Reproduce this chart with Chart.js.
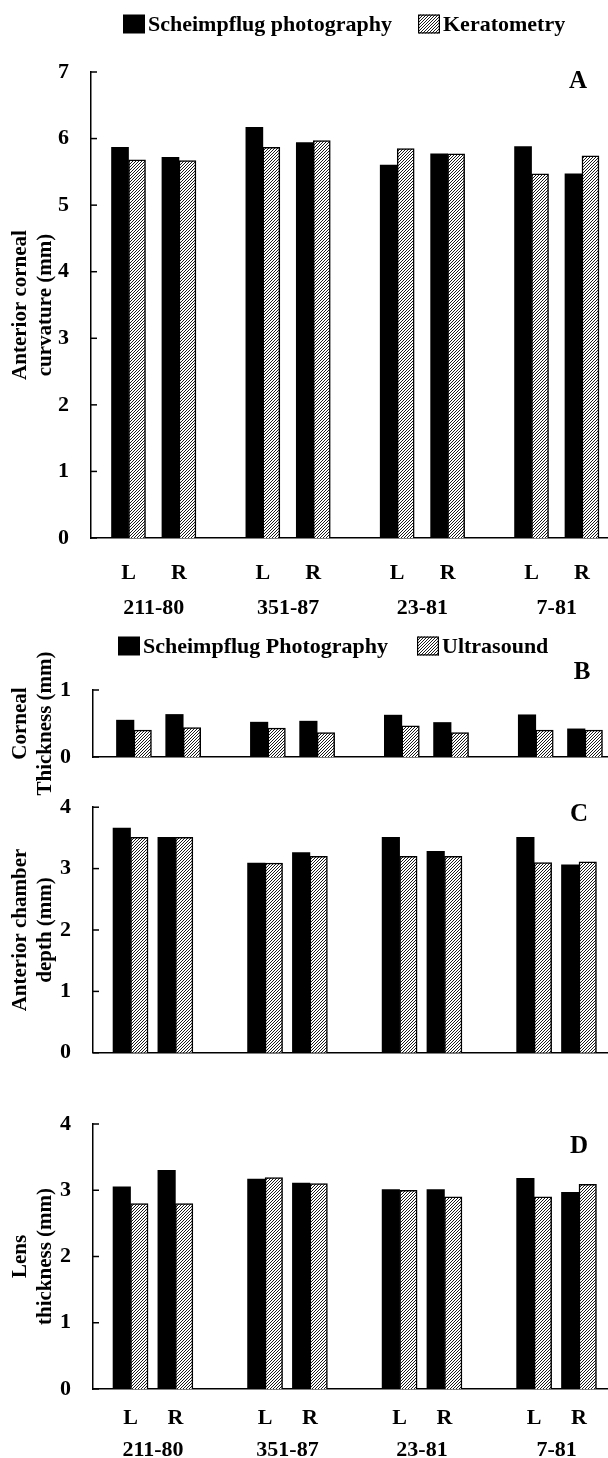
<!DOCTYPE html>
<html><head><meta charset="utf-8">
<script src="https://cdn.jsdelivr.net/npm/chart.js@4.4.1/dist/chart.umd.min.js"></script>
<style>
html,body{margin:0;padding:0;background:#fff;}
#wrap{position:relative;width:608px;height:1458px;overflow:hidden;background:#fff;}
.p{position:absolute;left:0;width:608px;}
canvas{display:block;}
</style></head><body>
<div id="wrap">
<div class="p" style="top:0;height:620px"><canvas id="cA" width="608" height="620"></canvas></div>
<div class="p" style="top:620px;height:200px"><canvas id="cB" width="608" height="200"></canvas></div>
<div class="p" style="top:780px;height:300px"><canvas id="cC" width="608" height="300"></canvas></div>
<div class="p" style="top:1080px;height:378px"><canvas id="cD" width="608" height="378"></canvas></div>
</div>
<script>
// ---------- data ----------
const groups = ['211-80', '351-87', '23-81', '7-81'];
const eyes = ['L', 'R'];
const seriesA = ['Scheimpflug photography', 'Keratometry'];
const seriesBCD = ['Scheimpflug Photography', 'Ultrasound'];

const curvScheimpflug = [5.87, 5.72, 6.17, 5.94, 5.60, 5.77, 5.88, 5.47];
const curvKeratometry = [5.68, 5.67, 5.87, 5.97, 5.85, 5.77, 5.47, 5.74];

const cornScheimpflug = [0.55, 0.635, 0.52, 0.535, 0.625, 0.515, 0.63, 0.42];
const cornUltrasound  = [0.40, 0.44, 0.43, 0.365, 0.465, 0.365, 0.40, 0.40];

const acdScheimpflug = [3.66, 3.51, 3.09, 3.26, 3.51, 3.28, 3.51, 3.06];
const acdUltrasound  = [3.51, 3.51, 3.09, 3.20, 3.20, 3.20, 3.10, 3.11];

const lensScheimpflug = [3.05, 3.30, 3.17, 3.11, 3.01, 3.01, 3.18, 2.97];
const lensUltrasound  = [2.80, 2.80, 3.19, 3.10, 3.00, 2.90, 2.90, 3.09];

const yTicksA = [0, 1, 2, 3, 4, 5, 6, 7];
const yTicksB = [0, 1];
const yTicksCD = [0, 1, 2, 3, 4];

const titleA = ['Anterior corneal', 'curvature (mm)'];
const titleB = ['Corneal', 'Thickness (mm)'];
const titleC = ['Anterior chamber', 'depth (mm)'];
const titleD = ['Lens', 'thickness (mm)'];

// ---------- styling ----------
const FONT = '"Liberation Serif", "Times New Roman", serif';
Chart.defaults.font.family = FONT;
Chart.defaults.color = '#000';
Chart.defaults.animation = false;

function hatchPattern() {
  const s = 3;
  const c = document.createElement('canvas'); c.width = s; c.height = s;
  const g = c.getContext('2d');
  g.fillStyle = '#fff'; g.fillRect(0, 0, s, s);
  g.strokeStyle = '#000'; g.lineWidth = 0.9;
  g.beginPath();
  g.moveTo(0, s); g.lineTo(s, 0);
  g.moveTo(-1, 1); g.lineTo(1, -1);
  g.moveTo(s - 1, s + 1); g.lineTo(s + 1, s - 1);
  g.stroke();
  return g.createPattern(c, 'repeat');
}
const HATCH = hatchPattern();

const panelDecor = {
  id: 'panelDecor',
  afterDraw(chart, args, opts) {
    const ctx = chart.ctx;
    const y = chart.scales.y, area = chart.chartArea;
    ctx.save();
    ctx.strokeStyle = '#000'; ctx.lineWidth = 1.5;
    y.ticks.forEach((t, i) => {
      const py = y.getPixelForTick(i);
      ctx.beginPath(); ctx.moveTo(area.left, py); ctx.lineTo(area.left + 6, py); ctx.stroke();
    });
    ctx.fillStyle = '#000';
    ctx.font = 'bold 25px ' + FONT;
    ctx.textAlign = 'center'; ctx.textBaseline = 'middle';
    ctx.fillText(opts.letter, opts.letterX, opts.letterY);
    if (opts.legend) {
      ctx.font = 'bold 22px ' + FONT;
      ctx.textAlign = 'left';
      chart.data.datasets.forEach((ds, i) => {
        const bx = opts.legend.xs[i], by = opts.legend.y;
        ctx.fillStyle = ds.backgroundColor;
        ctx.fillRect(bx, by - 9.5, 22, 19);
        if (ds.borderWidth) { ctx.lineWidth = 1.2; ctx.strokeStyle = '#000'; ctx.strokeRect(bx + 0.6, by - 8.9, 20.8, 17.8); }
        ctx.fillStyle = '#000';
        ctx.fillText(ds.label, bx + 25, by + 1);
      });
    }
    ctx.restore();
  }
};

function makePanel(id, p) {
  const pos = p.s1.map((_, i) => Math.floor(i / 2) * p.period + (i % 2));
  const grpPos = groups.map((_, g) => g * p.period + 0.5);
  const font = { family: FONT, size: 22, weight: 'bold' };
  const tfont = { family: FONT, size: 21, weight: 'bold', lineHeight: 1.2 };
  const scales = {
    x: {
      type: 'linear', position: 'bottom', min: p.xMin, max: p.xMax, offset: false,
      grid: { display: false },
      border: { display: true, color: '#000', width: 1.5 },
      afterBuildTicks: s => { s.ticks = pos.map(v => ({ value: v })); },
      ticks: { display: p.xLabels, padding: p.xPad, color: '#000', font, maxRotation: 0, autoSkip: false,
               callback: (v, i) => eyes[i % 2] },
      afterFit: s => { s.height = p.xH; }
    },
    y: {
      type: 'linear', position: 'left', min: 0, max: p.yMax,
      grid: { display: false },
      border: { display: true, color: '#000', width: 1.5 },
      afterBuildTicks: s => { s.ticks = p.yTicks.map(v => ({ value: v })); },
      ticks: { padding: 14, color: '#000', font, callback: v => String(v) },
      title: { display: true, text: p.yTitle, color: '#000', font: tfont, padding: { top: 8, bottom: 0 } },
      afterFit: s => { s.width = p.axisX; }
    }
  };
  if (p.xLabels) {
    scales.x2 = {
      type: 'linear', position: 'bottom', min: p.xMin, max: p.xMax, offset: false,
      grid: { display: false }, border: { display: false },
      afterBuildTicks: s => { s.ticks = grpPos.map(v => ({ value: v })); },
      ticks: { padding: p.x2Pad, color: '#000', font, maxRotation: 0, autoSkip: false,
               callback: (v, i) => groups[i] },
      afterFit: s => { s.height = p.x2H; }
    };
  }
  return new Chart(document.getElementById(id), {
    type: 'bar',
    data: {
      datasets: [
        { label: p.names[0], data: p.s1.map((v, i) => ({ x: pos[i], y: v })),
          backgroundColor: '#000', borderWidth: 0, barThickness: p.bar },
        { label: p.names[1], data: p.s2.map((v, i) => ({ x: pos[i], y: v })),
          backgroundColor: HATCH, borderColor: '#000', borderWidth: 1.5, barThickness: p.bar }
      ]
    },
    options: {
      responsive: false, devicePixelRatio: 1, animation: false,
      layout: { padding: { top: p.padTop, left: 0, right: 0, bottom: 0 } },
      plugins: {
        legend: { display: false }, tooltip: { enabled: false },
        panelDecor: { letter: p.letter, letterX: p.letterX, letterY: p.letterY, legend: p.legend }
      },
      scales
    },
    plugins: [panelDecor]
  });
}

makePanel('cA', {
  s1: curvScheimpflug, s2: curvKeratometry, names: seriesA, yTitle: titleA,
  yMax: 7, yTicks: yTicksA, period: 2.664, xMin: -0.744, xMax: 9.508, axisX: 91, bar: 17,
  padTop: 72, xLabels: true, xH: 46, xPad: 14, x2H: 36, x2Pad: 3,
  letter: 'A', letterX: 578, letterY: 82, legend: { y: 24, xs: [123, 418] }
});
makePanel('cB', {
  s1: cornScheimpflug, s2: cornUltrasound, names: seriesBCD, yTitle: titleB,
  yMax: 1, yTicks: yTicksB, period: 2.72, xMin: -0.832, xMax: 9.627, axisX: 93, bar: 17.5,
  padTop: 70, xLabels: false, xH: 63, xPad: 0,
  letter: 'B', letterX: 582, letterY: 53, legend: { y: 26, xs: [118, 417] }
});
makePanel('cC', {
  s1: acdScheimpflug, s2: acdUltrasound, names: seriesBCD, yTitle: titleC,
  yMax: 4, yTicks: yTicksCD, period: 3.0, xMin: -0.837, xMax: 10.647, axisX: 93, bar: 17.5,
  padTop: 20, xLabels: false, xH: 15, xPad: 0,
  letter: 'C', letterX: 579, letterY: 35, legend: null
});
makePanel('cD', {
  s1: lensScheimpflug, s2: lensUltrasound, names: seriesBCD, yTitle: titleD,
  yMax: 4, yTicks: yTicksCD, period: 3.0, xMin: -0.837, xMax: 10.647, axisX: 93, bar: 17.5,
  padTop: 44, xLabels: true, xH: 38, xPad: 8, x2H: 31, x2Pad: 2,
  letter: 'D', letterX: 579, letterY: 67, legend: null
});
</script>
</body></html>
